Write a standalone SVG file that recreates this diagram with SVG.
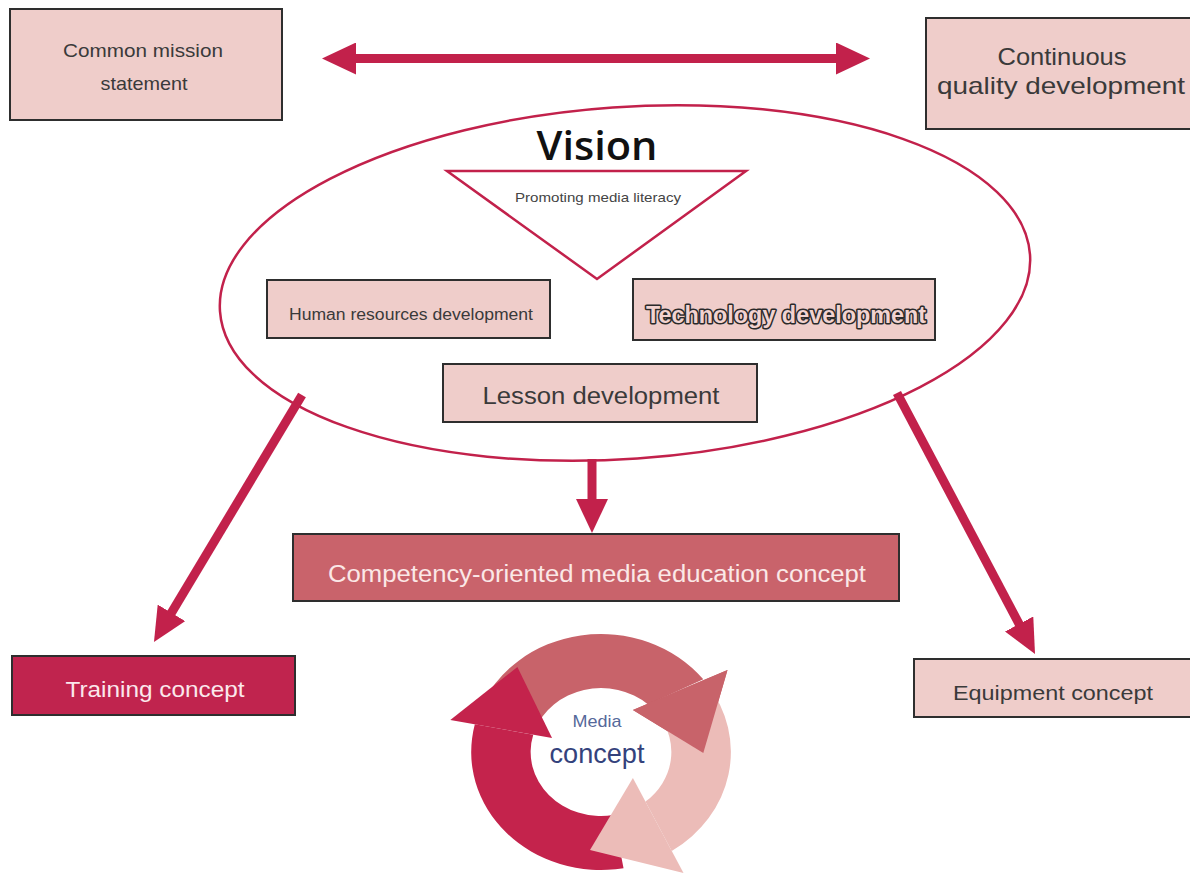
<svg xmlns="http://www.w3.org/2000/svg" width="1190" height="873" viewBox="0 0 1190 873">
<defs>
<style>
.box{fill:#efcdca;stroke:#2e2e2e;stroke-width:2}
.t{font-family:"Liberation Sans",Arial,sans-serif;fill:#3a3a3a;text-anchor:middle}
.conn{stroke:#c2214b;stroke-width:9;fill:none}
</style>
<marker id="ah" markerUnits="userSpaceOnUse" viewBox="0 0 34 32" markerWidth="34" markerHeight="32" refX="10" refY="16" orient="auto-start-reverse">
<path d="M0,0 L34,16 L0,32 Z" fill="#c2214b"/>
</marker>
</defs>
<rect width="1190" height="873" fill="#ffffff"/>

<g id="vision">
<ellipse cx="625" cy="283" rx="406" ry="176" transform="rotate(-4 625 283)" fill="#ffffff" stroke="#c2214b" stroke-width="2.5"/>
<text class="t" x="597" y="160" font-size="40" font-weight="600" textLength="121" lengthAdjust="spacingAndGlyphs" style="font-family:'Open Sans',sans-serif;fill:#111">Vision</text>
</g>

<g id="promoting">
<polygon points="447,171 746,171 597,279" fill="#ffffff" stroke="#c2214b" stroke-width="2.5"/>
<text class="t" x="598" y="202" font-size="13.5" textLength="166" lengthAdjust="spacingAndGlyphs" style="fill:#444">Promoting media literacy</text>
</g>

<g id="common-mission">
<rect class="box" x="10" y="9" width="272" height="111"/>
<text class="t" x="143" y="57" font-size="19" textLength="160" lengthAdjust="spacingAndGlyphs">Common mission</text>
<text class="t" x="144" y="90" font-size="19" textLength="87" lengthAdjust="spacingAndGlyphs">statement</text>
</g>

<g id="continuous-quality">
<rect class="box" x="926" y="18" width="270" height="111"/>
<text class="t" x="1062" y="65" font-size="24" textLength="129" lengthAdjust="spacingAndGlyphs">Continuous</text>
<text class="t" x="1061" y="94" font-size="24" textLength="248" lengthAdjust="spacingAndGlyphs">quality development</text>
</g>

<g id="human-resources">
<rect class="box" x="267" y="280" width="283" height="58"/>
<text class="t" x="411" y="320" font-size="16" textLength="244" lengthAdjust="spacingAndGlyphs">Human resources development</text>
</g>

<g id="technology">
<rect class="box" x="633" y="279" width="302" height="61"/>
<text class="t" x="786" y="323" font-size="23" font-weight="bold" stroke="#2a2a2a" stroke-width="3" stroke-linejoin="round" paint-order="stroke" textLength="280" lengthAdjust="spacingAndGlyphs" style="fill:#f2d3d0">Technology development</text>
</g>

<g id="lesson">
<rect class="box" x="443" y="364" width="314" height="58"/>
<text class="t" x="601" y="404" font-size="23" textLength="237" lengthAdjust="spacingAndGlyphs">Lesson development</text>
</g>

<g id="competency">
<rect x="293" y="534" width="606" height="67" fill="#c9636b" stroke="#2e2e2e" stroke-width="2"/>
<text class="t" x="597" y="582" font-size="23" textLength="538" lengthAdjust="spacingAndGlyphs" style="fill:#fbe8e7">Competency-oriented media education concept</text>
</g>

<g id="training">
<rect x="12" y="656" width="283" height="59" fill="#c0244e" stroke="#2e2e2e" stroke-width="2"/>
<text class="t" x="155" y="697" font-size="22" textLength="179" lengthAdjust="spacingAndGlyphs" style="fill:#fbe8ec">Training concept</text>
</g>

<g id="equipment">
<rect class="box" x="914" y="659" width="285" height="58"/>
<text class="t" x="1053" y="700" font-size="21" textLength="200" lengthAdjust="spacingAndGlyphs">Equipment concept</text>
</g>

<g id="media-concept">
<g transform="translate(601 752) scale(1.1 1)">
<path d="M -110.9,-40.4 A 118 118 0 0 1 93.0,-72.7 L 42.8,-47.6 A 64 64 0 0 0 -60.1,-21.9 Z" fill="#c8636a"/>
<polygon points="29,-42 115,-82 93,1" fill="#c8636a"/>
<path d="M 20.5,116.2 A 118 118 0 0 1 -114.7,-27.7 L -61.6,-17.3 A 64 64 0 0 0 11.1,63.0 Z" fill="#c4234c"/>
<polygon points="-137,-32 -44.5,-14 -76,-85" fill="#c4234c"/>
<path d="M 96.7,-67.7 A 118 118 0 0 1 64.3,99.0 L 40.4,49.6 A 64 64 0 0 0 52.4,-36.7 Z" fill="#ecbcb8"/>
<polygon points="29,26 75,121 -10,98" fill="#ecbcb8"/>
<polygon points="29,-42 115,-82 93,1" fill="#c8636a"/>
</g>
<text class="t" x="597" y="727" font-size="17" textLength="49" lengthAdjust="spacingAndGlyphs" style="fill:#55689a">Media</text>
<text class="t" x="597" y="763" font-size="28" textLength="95" lengthAdjust="spacingAndGlyphs" style="fill:#34427c">concept</text>
</g>

<g id="connectors">
<line class="conn" x1="346" y1="58.5" x2="846" y2="58.5" marker-start="url(#ah)" marker-end="url(#ah)"/>
<line class="conn" x1="302" y1="395" x2="166.3" y2="621.4" marker-end="url(#ah)"/>
<line class="conn" x1="897" y1="393" x2="1023.8" y2="632.8" marker-end="url(#ah)"/>
<line class="conn" x1="592" y1="459" x2="592" y2="509" marker-end="url(#ah)"/>
</g>
</svg>
